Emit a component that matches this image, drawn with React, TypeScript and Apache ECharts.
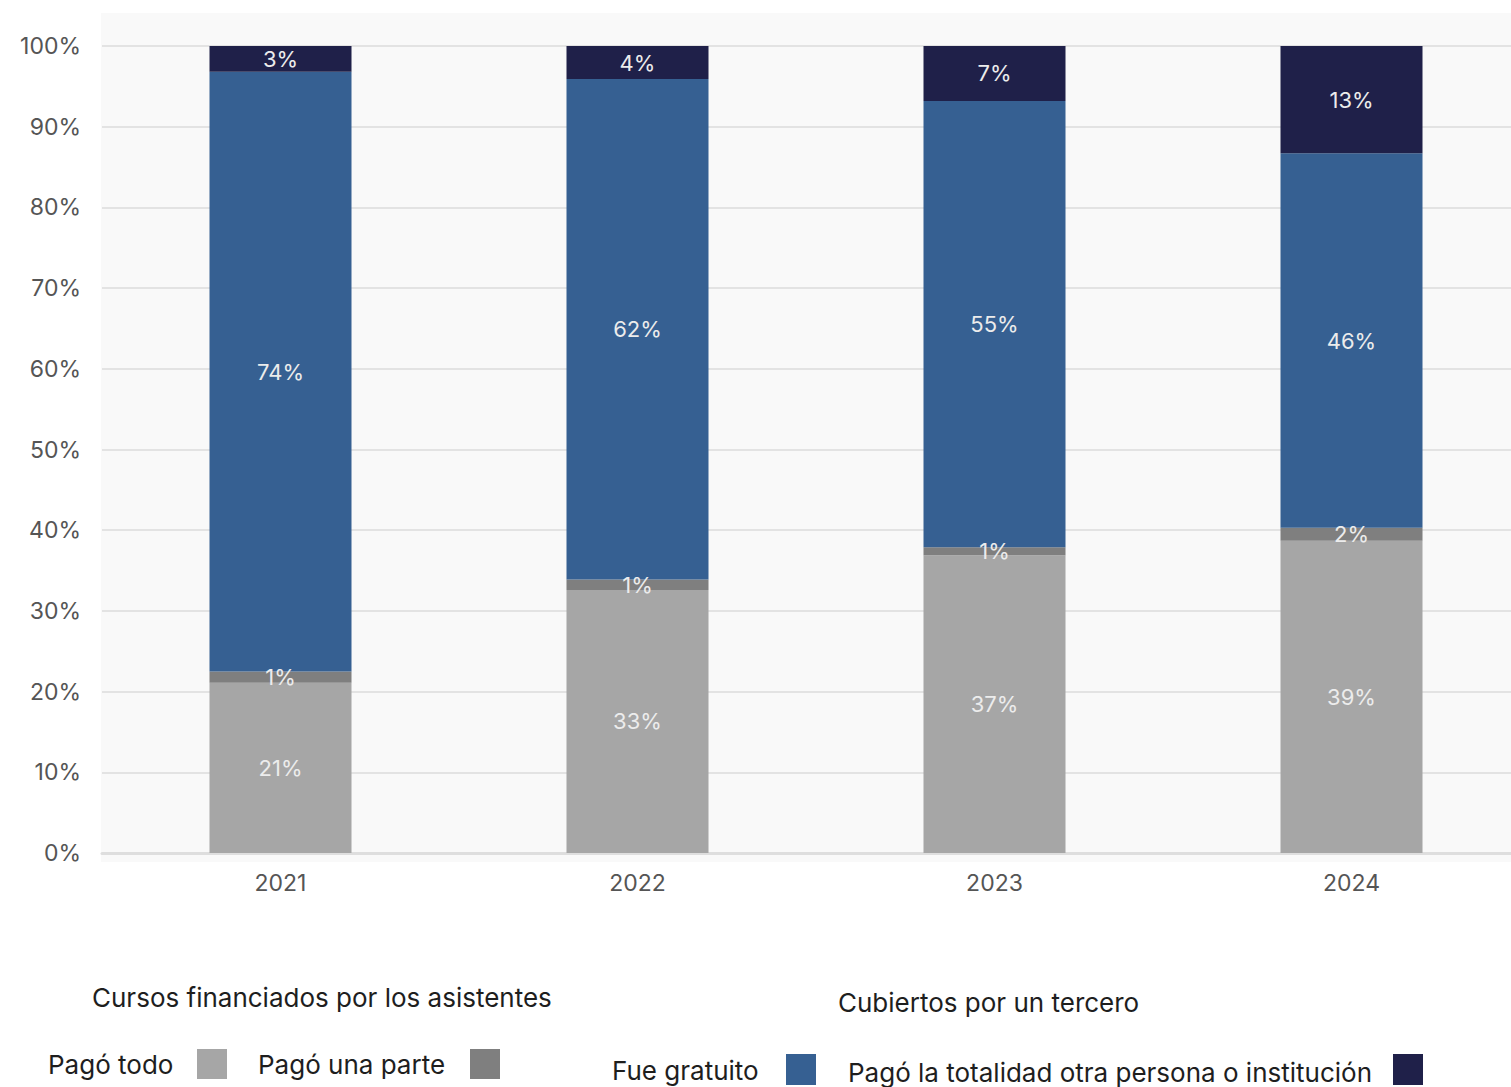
import React, { useEffect, useRef } from "react";
import * as echarts from "echarts";

const years = ["2021", "2022", "2023", "2024"];
const pagoTodo = [21.1, 32.6, 36.9, 38.7];
const pagoParte = [1.4, 1.3, 1.0, 1.6];
const gratuito = [74.3, 62.0, 55.3, 46.4];
const otraPersona = [3.2, 4.1, 6.8, 13.3];
const yTicks = [0, 10, 20, 30, 40, 50, 60, 70, 80, 90, 100];

const COLORS = {
  todo: "#a6a6a6",
  parte: "#7f7f7f",
  gratuito: "#366092",
  otra: "#1f2049",
};

const FONT = "Inter, 'Noto Sans', sans-serif";

export default function App() {
  const ref = useRef<HTMLDivElement>(null);
  useEffect(() => {
    if (!ref.current) return;
    const chart = echarts.init(ref.current, null, { renderer: "svg" });
    const label = {
      show: true,
      position: "inside",
      color: "#ececec",
      fontSize: 22,
      fontFamily: FONT,
      formatter: (p: any) => Math.round(p.value) + "%",
    };
    const mk = (name: string, data: number[], color: string) => ({
      name,
      type: "bar",
      stack: "total",
      data,
      barWidth: 142,
      itemStyle: { color },
      label,
    });
    const legText = (text: string, x: number, y: number) => ({
      type: "text",
      x,
      y,
      style: { text, font: `26px ${FONT}`, fill: "#1e1e1e", textVerticalAlign: "middle" },
    });
    chart.setOption({
      animation: false,
      textStyle: { fontFamily: FONT },
      grid: {
        left: 102,
        right: 0,
        top: 46,
        bottom: 234,
        containLabel: false,
        outerBoundsMode: "none",
      },
      xAxis: {
        type: "category",
        data: years,
        axisTick: { show: false },
        axisLine: { show: true, lineStyle: { color: "#dedede", width: 3 } },
        axisLabel: { color: "#555", fontSize: 23, margin: 18, fontFamily: FONT },
      },
      yAxis: {
        type: "value",
        min: 0,
        max: 100,
        interval: 10,
        axisLine: { show: false },
        axisTick: { show: false },
        splitLine: { lineStyle: { color: "#e3e3e3", width: 2 } },
        axisLabel: {
          color: "#555",
          fontSize: 23,
          margin: 21,
          fontFamily: FONT,
          formatter: (v: number) => (yTicks.includes(v) ? v + "%" : ""),
        },
      },
      graphic: [
        {
          type: "rect",
          z: -10,
          silent: true,
          shape: { x: 101, y: 13, width: 1429, height: 849 },
          style: { fill: "#f9f9f9" },
        },
        legText("Cursos financiados por los asistentes", 92, 997),
        legText("Pagó todo", 48, 1064),
        { type: "rect", shape: { x: 197, y: 1049, width: 30, height: 30 }, style: { fill: COLORS.todo } },
        legText("Pagó una parte", 258, 1064),
        { type: "rect", shape: { x: 470, y: 1049, width: 30, height: 30 }, style: { fill: COLORS.parte } },
        legText("Cubiertos por un tercero", 838, 1002),
        legText("Fue gratuito", 612, 1070),
        { type: "rect", shape: { x: 786, y: 1054, width: 30, height: 31 }, style: { fill: COLORS.gratuito } },
        legText("Pagó la totalidad otra persona o institución", 848, 1072),
        { type: "rect", shape: { x: 1393, y: 1054, width: 30, height: 31 }, style: { fill: COLORS.otra } },
      ],
      series: [
        mk("Pagó todo", pagoTodo, COLORS.todo),
        mk("Pagó una parte", pagoParte, COLORS.parte),
        mk("Fue gratuito", gratuito, COLORS.gratuito),
        mk("Pagó la totalidad otra persona o institución", otraPersona, COLORS.otra),
      ],
    });
    return () => chart.dispose();
  }, []);
  return (
    <div
      ref={ref}
      style={{ position: "fixed", left: 0, top: 0, width: 1530, height: 1087, background: "#fff" }}
    />
  );
}
